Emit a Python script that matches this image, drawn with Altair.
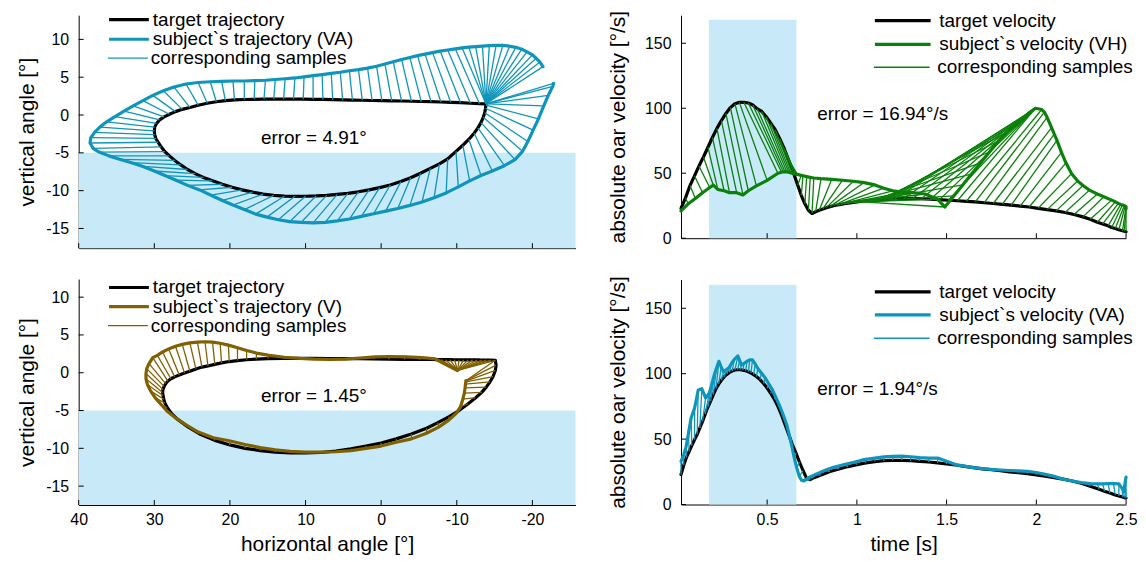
import altair as alt
import pandas as pd

FONT = "Liberation Sans"
BLACK = "#000000"
TEAL = "#0f95bb"
GREEN = "#0b800b"
OLIVE = "#806000"
BAND = "#c7e9f8"

# ---------------- top-left: target vs subject trajectory (VA) ----------------
TL_LABELS = ["target trajectory", "subject`s trajectory (VA)", "corresponding samples"]
TL_TX = [-13.85, -13.85, -13.85, -13.85, -13.85, -13.85, -13.85, -13.85, -13.85, -13.85,
         -13.85, -13.85, -13.85, -13.85, -13.85,
         -13.0, -11.8, -10.5, -9.2, -7.9, -6.6, -5.3, -4.0, -2.7, -1.4,
         -0.1, 1.2, 2.5, 3.8, 5.1, 6.4, 7.7, 9.0, 10.3, 11.6,
         12.9, 14.2, 15.5, 16.8, 18.1, 19.4, 20.6, 21.8, 23.0, 24.2,
         25.3, 26.3, 27.2, 28.0, 28.7, 29.3, 29.7, 29.95, 30.0, 29.95,
         29.8, 29.5, 29.1, 28.6, 28.0,
         27.3, 26.5, 25.6, 24.6, 23.5, 22.3, 21.0, 19.7, 18.4, 17.0,
         15.6, 14.2, 12.8, 11.4, 10.0, 8.6, 7.2, 5.8, 4.4, 3.0,
         1.6, 0.2, -1.2, -2.6, -3.9, -5.2, -6.5, -7.7, -8.8, -9.9,
         -10.8, -11.6, -12.3,
         -12.8, -13.2, -13.5, -13.7, -13.8, -13.85, -13.85, -13.85, -13.85, -13.85]
TL_TY = [1.48, 1.48, 1.48, 1.48, 1.48, 1.48, 1.48, 1.48, 1.48, 1.48,
         1.48, 1.48, 1.48, 1.48, 1.48,
         1.50, 1.56, 1.63, 1.68, 1.72, 1.76, 1.79, 1.82, 1.85, 1.87,
         1.9, 1.92, 1.95, 1.97, 2.0, 2.03, 2.06, 2.08, 2.1, 2.1,
         2.1, 2.1, 2.1, 2.08, 2.05, 2.0, 1.9, 1.75, 1.55, 1.3,
         1.0, 0.75, 0.45, 0.1, -0.25, -0.65, -1.1, -1.6, -2.1, -2.6,
         -3.1, -3.6, -4.2, -4.85, -5.4,
         -6.0, -6.6, -7.2, -7.75, -8.25, -8.7, -9.15, -9.55, -9.9, -10.2,
         -10.45, -10.62, -10.73, -10.75, -10.74, -10.7, -10.62, -10.5, -10.35, -10.15,
         -9.9, -9.6, -9.25, -8.8, -8.3, -7.7, -7.05, -6.45, -5.8, -4.8,
         -4.0, -3.2, -2.4,
         -1.7, -1.0, -0.3, 0.3, 0.9, 1.3, 1.48, 1.48, 1.48, 1.48]
TL_SX = [-21.4, -21.0, -20.5, -20.0, -19.3, -18.6, -17.8, -17.0, -16.1, -15.2,
         -14.3, -13.4, -12.5, -11.6, -10.7,
         -9.8, -8.8, -7.8, -6.8, -5.8, -4.8, -3.8, -2.7, -1.6, -0.5,
         0.6, 1.8, 3.0, 4.2, 5.4, 6.6, 7.8, 9.0, 10.2, 11.4,
         12.7, 14.0, 15.3, 16.7, 18.1, 19.6, 21.1, 22.6, 24.2, 25.8,
         27.4, 28.8, 30.2, 31.5, 32.8, 34.0, 35.2, 36.3, 37.2, 37.9,
         38.4, 38.5, 38.1, 37.3, 36.0,
         34.6, 33.0, 31.5, 30.0, 28.6, 27.2, 25.6, 24.0, 22.5, 21.0,
         19.6, 18.1, 16.6, 15.1, 13.6, 12.1, 10.6, 9.0, 7.4, 5.8,
         4.2, 2.6, 1.0, -0.6, -2.2, -3.8, -5.4, -7.0, -8.6, -10.2,
         -11.7, -13.2, -14.7,
         -16.3, -17.7, -18.7, -19.4, -20.1, -20.8, -21.5, -22.1, -22.7, -22.8]
TL_SY = [6.4, 7.0, 7.5, 7.95, 8.35, 8.7, 8.95, 9.1, 9.2, 9.2,
         9.18, 9.12, 9.05, 8.97, 8.88,
         8.75, 8.6, 8.45, 8.25, 8.05, 7.85, 7.6, 7.35, 7.05, 6.75,
         6.45, 6.2, 6.0, 5.85, 5.65, 5.5, 5.35, 5.2, 5.05, 4.9,
         4.8, 4.7, 4.6, 4.55, 4.5, 4.5, 4.45, 4.4, 4.3, 4.1,
         3.7, 3.2, 2.6, 1.9, 1.2, 0.5, -0.2, -0.9, -1.6, -2.3,
         -3.0, -3.7, -4.4, -4.9, -5.4,
         -5.85, -6.3, -6.8, -7.4, -8.0, -8.6, -9.3, -9.9, -10.6, -11.3,
         -11.9, -12.5, -13.1, -13.5, -13.85, -14.1, -14.2, -14.25, -14.2, -14.0,
         -13.75, -13.4, -13.05, -12.7, -12.35, -11.95, -11.5, -10.95, -10.3, -9.5,
         -8.7, -8.0, -7.4,
         -6.7, -5.9, -4.8, -3.5, -2.0, -0.5, 1.2, 2.6, 3.8, 4.2]

# ---------------- bottom-left: target vs subject trajectory (V) ----------------
BL_LABELS = ["target trajectory", "subject`s trajectory (V)", "corresponding samples"]
BL_TX = [-15.1, -14.5, -13.9, -13.3, -12.7, -12.1, -11.5, -10.9, -10.3, -9.7,
         -9.1, -8.5, -7.9, -7.3,
         -6.7, -5.0, -3.0, -1.0, 1.0, 3.0, 5.0, 7.0, 9.0, 11.0, 13.0, 15.0,
         16.5, 17.8, 19.0, 20.1, 21.1, 22.0, 22.9, 23.7, 24.5, 25.3,
         26.0, 26.7, 27.3, 27.8, 28.2, 28.5, 28.7, 28.85, 28.9, 28.85,
         28.75, 28.6, 28.3, 27.8,
         27.0, 25.5, 24.0, 22.0, 20.0, 18.0, 16.0, 14.0, 12.0, 10.0,
         8.0, 6.0, 4.0, 2.0, 0.0, -2.0, -4.0, -6.0, -7.5, -9.0,
         -10.3, -11.5, -12.5, -13.3, -13.9, -14.4, -14.8, -15.1, -15.2, -15.1]
BL_TY = [1.65, 1.66, 1.67, 1.68, 1.69, 1.7, 1.7, 1.71, 1.72, 1.72,
         1.73, 1.73, 1.74, 1.74,
         1.75, 1.75, 1.78, 1.8, 1.82, 1.85, 1.87, 1.88, 1.9, 1.9, 1.88, 1.87,
         1.8, 1.72, 1.6, 1.48, 1.3, 1.1, 0.9, 0.75, 0.5, 0.2,
         -0.05, -0.3, -0.55, -0.8, -1.1, -1.45, -1.8, -2.2, -2.6, -3.0,
         -3.5, -4.0, -4.6, -5.3,
         -6.1, -7.2, -8.1, -8.95, -9.55, -10.0, -10.3, -10.5, -10.62, -10.62,
         -10.55, -10.35, -10.05, -9.7, -9.3, -8.75, -8.1, -7.35, -6.6, -5.8,
         -5.0, -4.1, -3.3, -2.6, -1.9, -1.2, -0.5, 0.3, 1.0, 1.65]
BL_SX = [-10.1, -10.1, -10.1, -10.1, -10.1, -10.1, -10.1, -10.1, -10.1, -10.1,
         -10.1, -10.1, -10.1, -10.1,
         -7.1, -5.4, -3.3, -1.2, 0.8, 2.8, 4.8, 6.8, 8.8, 10.8, 12.8, 14.8,
         16.5, 17.8, 19.0, 20.2, 21.3, 22.3, 23.3, 24.3, 25.3, 26.3,
         27.2, 28.1, 28.9, 29.6, 30.2, 30.7, 31.0, 31.1, 31.1, 30.9,
         30.5, 29.9, 29.1, 28.3,
         27.3, 25.8, 24.2, 22.2, 20.1, 18.0, 16.0, 14.0, 12.0, 10.0,
         8.0, 6.0, 4.0, 2.0, 0.0, -2.0, -4.0, -6.0, -7.6, -8.9,
         -9.9, -10.5, -10.8, -11.0, -11.1, -11.15, -11.2, -11.2, -11.2, -11.2]
BL_SY = [0.3, 0.3, 0.3, 0.3, 0.3, 0.3, 0.3, 0.3, 0.3, 0.3,
         0.3, 0.3, 0.3, 0.3,
         1.85, 2.0, 2.1, 2.15, 2.1, 1.95, 1.8, 1.75, 1.8, 1.9, 2.05, 2.3,
         2.6, 2.95, 3.3, 3.65, 3.9, 4.05, 4.1, 4.05, 3.95, 3.75,
         3.5, 3.15, 2.75, 2.3, 2.0, 1.2, 0.55, -0.1, -0.8, -1.6,
         -2.4, -3.3, -4.2, -5.1,
         -5.9, -6.9, -7.85, -8.6, -9.0, -9.5, -9.9, -10.2, -10.4, -10.5,
         -10.5, -10.45, -10.3, -10.0, -9.7, -9.2, -8.75, -8.0, -7.2, -6.3,
         -5.4, -4.5, -3.5, -2.7, -2.0, -1.5, -1.2, -1.1, -1.05, -1.05]

# ---------------- top-right: target vs subject velocity (VH) ----------------
TR_LABELS = ["target velocity", "subject`s velocity (VH)", "corresponding samples"]
TR_TT = [0.02, 0.045, 0.07, 0.095, 0.12, 0.145, 0.17, 0.195, 0.22, 0.245,
         0.27, 0.295, 0.32, 0.345, 0.37,
         0.395, 0.42, 0.445, 0.47, 0.495, 0.52, 0.545, 0.57, 0.595, 0.62,
         0.645, 0.67, 0.69, 0.71, 0.73, 0.75,
         0.77, 0.79, 0.81, 0.83, 0.85, 0.87, 0.89, 0.91, 0.93, 0.95, 0.97, 0.99,
         1.01, 1.03, 1.05, 1.07, 1.09, 1.11, 1.13, 1.15, 1.17, 1.19,
         1.21, 1.26, 1.31, 1.36, 1.41, 1.46, 1.51, 1.56,
         1.61, 1.66, 1.71, 1.76, 1.81, 1.86, 1.91, 1.96, 2.01, 2.06,
         2.11, 2.16, 2.21, 2.26, 2.3,
         2.34, 2.37, 2.4, 2.42, 2.44, 2.46, 2.48, 2.49, 2.5]
TR_TV = [23, 31, 40.5, 48, 55.5, 62.5, 70, 77.5, 84.5, 90.5,
         96, 100.5, 103.5, 104.5, 104.6,
         104, 102.5, 99.5, 97.5, 93.5, 88.5, 83.5, 76.5, 69, 60,
         51, 41, 33, 26.5, 21.5, 19,
         20.3, 21.5, 22.5, 23.5, 24.3, 25, 25.5, 26, 26.5, 27, 27.4, 27.8,
         28.1, 28.4, 28.6, 28.8, 29.0, 29.2, 29.4, 29.6, 29.8, 30,
         30.2, 30.5, 30.6, 30.5, 30.1, 29.7, 29.2, 28.8,
         28.4, 28, 27.3, 26.7, 26, 25.4, 24.7, 24, 23, 22,
         21, 19.8, 18.2, 16.4, 14.5,
         12.3, 11, 9.5, 8.2, 7.4, 6.5, 5.7, 5.3, 5]
TR_ST = [0.02, 0.06, 0.1, 0.14, 0.18, 0.2, 0.225, 0.26, 0.29, 0.33,
         0.365, 0.395, 0.44, 0.5, 0.56,
         0.58, 0.59, 0.6, 0.61, 0.62, 0.63, 0.64, 0.65, 0.66, 0.67,
         0.68, 0.69, 0.7, 0.72, 0.74, 0.76,
         0.8, 0.86, 0.92, 0.98, 1.04, 1.1, 1.15, 1.2, 1.26, 1.32, 1.38, 1.45,
         1.49, 1.54, 1.59, 1.64, 1.69, 1.74, 1.79, 1.84, 1.9, 1.96,
         1.995, 1.995, 1.995, 1.995, 1.995, 1.995, 1.995, 1.995,
         2.03, 2.045, 2.06, 2.085, 2.1, 2.115, 2.14, 2.165, 2.196, 2.23,
         2.26, 2.296, 2.34, 2.376, 2.42,
         2.44, 2.457, 2.47, 2.48, 2.49, 2.495, 2.5, 2.5, 2.5]
TR_SV = [21, 26.5, 30.5, 35, 39, 40.8, 37.5, 36.5, 35, 35,
         33.3, 36.5, 40.3, 44.5, 50,
         50.8, 51, 51, 51, 50.7, 50.3, 50, 49.7, 49.3, 49,
         48.7, 48.3, 48, 47.4, 46.8, 46.3,
         45.8, 45.3, 44.6, 43.8, 42.8, 41, 38.5, 36.5, 35.3, 35, 34, 30,
         24, 32.5, 41, 49.5, 58, 66.5, 75, 82, 89, 96.5,
         100, 100, 100, 100, 100, 100, 100, 100,
         99, 97, 93, 85, 80, 75.3, 66, 58, 49.7, 44,
         40.5, 37, 34, 31.9, 29.3,
         28, 26.8, 26, 25.5, 25, 24.6, 24.2, 23.5, 22.5]

# ---------------- bottom-right: target vs subject velocity (VA) ----------------
BR_LABELS = ["target velocity", "subject`s velocity (VA)", "corresponding samples"]
BR_TT = [0.02, 0.035, 0.05, 0.065, 0.08, 0.095, 0.11, 0.125, 0.14, 0.155,
         0.17, 0.185, 0.2, 0.215, 0.23, 0.245, 0.26, 0.275, 0.29, 0.305,
         0.32, 0.335, 0.35, 0.365, 0.38, 0.395, 0.41, 0.425, 0.44, 0.46,
         0.48, 0.5, 0.52, 0.54, 0.56, 0.58, 0.6, 0.62, 0.64, 0.66,
         0.68, 0.7, 0.72, 0.74, 0.76, 0.8, 0.85, 0.9, 0.95, 1.0,
         1.05, 1.1, 1.15, 1.2, 1.25, 1.3, 1.35, 1.4, 1.45, 1.5,
         1.55, 1.6, 1.65, 1.7, 1.75, 1.8, 1.85, 1.9, 1.95, 2.0,
         2.05, 2.1, 2.15, 2.2, 2.25, 2.3, 2.35, 2.38, 2.41, 2.44,
         2.46, 2.48, 2.49, 2.5, 2.5]
BR_TV = [22.9, 30, 36, 40.5, 45, 49.5, 53.5, 58.5, 63.5, 69,
         74.5, 79, 84, 88.5, 92, 95, 97.5, 99.5, 101, 102,
         102.8, 103, 103, 102.7, 102.2, 101.5, 100.5, 99.3, 97.8, 95.5,
         92.5, 89, 85, 80.5, 75, 68.5, 61, 53.5, 46, 39.5,
         32.5, 26, 20, 19, 20.5, 22.5, 25.3, 27.2, 29, 30.5,
         31.8, 32.8, 33.5, 33.8, 33.8, 33.5, 33, 32.5, 31.8, 31,
         30.2, 29.2, 28.2, 27.3, 26.6, 25.8, 25, 24.3, 23.6, 22.7,
         21.7, 20.6, 19.4, 18, 16.2, 14, 11.7, 10.2, 8.8, 7.3,
         6.5, 5.7, 5.3, 5, 5]
BR_ST = [0.02, 0.035, 0.048, 0.062, 0.076, 0.096, 0.116, 0.136, 0.157, 0.177,
         0.19, 0.203, 0.217, 0.231, 0.244, 0.257, 0.272, 0.287, 0.302, 0.317,
         0.337, 0.347, 0.357, 0.372, 0.388, 0.403, 0.418, 0.433, 0.448, 0.468,
         0.488, 0.508, 0.528, 0.548, 0.568, 0.588, 0.609, 0.625, 0.64, 0.652,
         0.665, 0.679, 0.692, 0.705, 0.73, 0.77, 0.82, 0.87, 0.93, 0.99,
         1.04, 1.1, 1.15, 1.2, 1.25, 1.3, 1.35, 1.4, 1.45, 1.5,
         1.55, 1.6, 1.65, 1.7, 1.75, 1.8, 1.85, 1.9, 1.95, 2.0,
         2.05, 2.1, 2.15, 2.2, 2.25, 2.3, 2.34, 2.37, 2.4, 2.43,
         2.46, 2.48, 2.487, 2.495, 2.5]
BR_SV = [33, 38, 44, 55, 66, 74, 87.5, 88.5, 81.5, 85,
         91, 98, 104, 109.5, 105, 101.5, 103, 104.5, 108, 111,
         113.5, 110, 106.5, 108, 109.5, 110.5, 110.5, 107.5, 104, 100.5,
         97, 92.5, 88, 82, 76, 69, 61, 52, 43, 35,
         28, 21.5, 18.5, 18, 20.5, 23, 26, 28.5, 30.5, 32.5,
         34.3, 35.5, 36.4, 36.8, 37, 36.5, 35.8, 35.5, 35.5, 33,
         30.5, 29.3, 28.2, 27.5, 26.8, 26.4, 26, 25.7, 25.4, 24.5,
         23, 21.5, 19.3, 18, 16.7, 16, 15.8, 15.8, 15.9, 15.9,
         15.8, 12, 9.5, 17, 21]

# axis ticks, ranges, bands, annotations
ANGLE_TICKS = [40, 30, 20, 10, 0, -10, -20]
VERT_TICKS = [-15, -10, -5, 0, 5, 10]
TIME_TICKS = [0.5, 1, 1.5, 2, 2.5]
VEL_TICKS = [0, 50, 100, 150]
ANGLE_DOMAIN = [-25.7, 40]
TL_YDOMAIN = [-17.6, 13.2]
BL_YDOMAIN = [-17.5, 12.4]
TIME_DOMAIN = [0.02, 2.5]
TR_YDOMAIN = [0, 171.6]
BR_YDOMAIN = [0, 172]
TL_BAND = [-25.7, 40, -17.6, -5]
BL_BAND = [-25.7, 40, -17.5, -5]
VEL_BAND = [0.176, 0.663, 0, 168]
TL_ERR = [15.9, -3.1, "error = 4.91°"]
BL_ERR = [15.9, -3.1, "error = 1.45°"]
TR_ERR = [0.779, 95.7, "error = 16.94°/s"]
BR_ERR = [0.779, 88.6, "error = 1.94°/s"]


def make_df(tx, ty, sx, sy, labels):
    assert len(tx) == len(ty) == len(sx) == len(sy), (len(tx), len(ty), len(sx), len(sy))
    rows = []
    for i, (a, b) in enumerate(zip(tx, ty)):
        rows.append({"s": labels[0], "k": "t", "g": "t", "o": i, "x": a, "y": b})
    for i, (a, b) in enumerate(zip(sx, sy)):
        rows.append({"s": labels[1], "k": "s", "g": "s", "o": i, "x": a, "y": b})
    for i in range(len(tx)):
        rows.append({"s": labels[2], "k": "p", "g": "p%d" % i, "o": 0, "x": tx[i], "y": ty[i]})
        rows.append({"s": labels[2], "k": "p", "g": "p%d" % i, "o": 1, "x": sx[i], "y": sy[i]})
    return pd.DataFrame(rows)


def panel(tx, ty, sx, sy, labels, color, xdom, xrev, ydom, w, h, xticks, yticks,
          xlabels, xtitle, ytitle, band, err, legx, legys, sym_path, lab_off, ytitle_pad):
    xs = alt.Scale(domain=xdom, reverse=xrev, nice=False, zero=False)
    ys = alt.Scale(domain=ydom, nice=False, zero=False)
    common = dict(grid=False, ticks=False, domainColor="black", domainWidth=1,
                  labelFont=FONT, labelFontSize=16, labelColor="black",
                  labelExpr="datum.value + ''", labelFlush=False, labelOverlap=False,
                  titleFont=FONT, titleFontSize=21, titleFontWeight="normal", titleColor="black")
    if xlabels:
        xaxis = alt.Axis(values=xticks, labels=True, labelPadding=7, title=xtitle, titlePadding=6, **common)
    else:
        xaxis = alt.Axis(values=xticks, labels=False, title=None, **common)
    yaxis = alt.Axis(values=yticks, labelPadding=10, title=ytitle, titlePadding=ytitle_pad, **common)
    X = lambda f: alt.X(f, scale=xs, axis=xaxis)
    Y = lambda f: alt.Y(f, scale=ys, axis=yaxis)

    band_df = pd.DataFrame({"x": [band[0]], "x2": [band[1]], "y": [band[2]], "y2": [band[3]]})
    band_layer = alt.Chart(band_df).mark_rect(color=BAND).encode(
        x=X("x:Q"), x2="x2:Q", y=Y("y:Q"), y2="y2:Q")

    df = make_df(tx, ty, sx, sy, labels)
    leg_common = dict(orient="none", legendX=legx, title=None, symbolType=sym_path, symbolSize=400,
                      labelOffset=lab_off, labelFont=FONT, labelFontSize=19,
                      labelColor="black", labelLimit=400, padding=0, symbolFillColor="transparent")
    leg_t = alt.Legend(legendY=legys[0], symbolStrokeWidth=3.2, **leg_common)
    leg_s = alt.Legend(legendY=legys[1], symbolStrokeWidth=3.2, **leg_common)
    leg_p = alt.Legend(legendY=legys[2], symbolStrokeWidth=1.3, symbolStrokeColor=color, **leg_common)
    ch_t = alt.Color("s:N", scale=alt.Scale(domain=labels[0:1], range=[BLACK]), legend=leg_t)
    ch_s = alt.Stroke("s:N", scale=alt.Scale(domain=labels[1:2], range=[color]), legend=leg_s)
    ch_p = alt.Opacity("s:N", scale=alt.Scale(domain=labels[2:3], range=[1]), legend=leg_p)

    base = alt.Chart(df)
    target = base.transform_filter(alt.datum.k == "t").mark_line(
        strokeWidth=3.2, strokeJoin="round", strokeCap="round").encode(
        x=X("x:Q"), y=Y("y:Q"), color=ch_t, detail="g:N", order="o:Q")
    subject = base.transform_filter(alt.datum.k == "s").mark_line(
        strokeWidth=3.2, strokeJoin="round", strokeCap="round").encode(
        x=X("x:Q"), y=Y("y:Q"), stroke=ch_s, detail="g:N", order="o:Q")
    pairs = base.transform_filter(alt.datum.k == "p").mark_line(color=color, strokeWidth=1.3).encode(
        x=X("x:Q"), y=Y("y:Q"), opacity=ch_p, detail="g:N", order="o:Q")

    xt = alt.Chart(pd.DataFrame({"x": xticks})).mark_rule(color="black", strokeWidth=1).encode(
        x=X("x:Q"), y=alt.value(h), y2=alt.value(h - 5))
    yt = alt.Chart(pd.DataFrame({"y": yticks})).mark_rule(color="black", strokeWidth=1).encode(
        y=Y("y:Q"), x=alt.value(0), x2=alt.value(5))

    txt = alt.Chart(pd.DataFrame({"x": [err[0]], "y": [err[1]], "t": [err[2]]})).mark_text(
        align="left", baseline="middle", font=FONT, fontSize=19, color="black").encode(
        x=X("x:Q"), y=Y("y:Q"), text="t:N")

    return alt.layer(band_layer, target, subject, pairs, xt, yt, txt).properties(width=w, height=h)


LEFT_PATH = "M-1,0H3"
RIGHT_PATH = "M-1,0H4.6"

tl = panel(TL_TX, TL_TY, TL_SX, TL_SY, TL_LABELS, TEAL, ANGLE_DOMAIN, True, TL_YDOMAIN, 499, 234,
           ANGLE_TICKS, VERT_TICKS, False, None, "vertical angle [°]", TL_BAND, TL_ERR,
           28.5, [-7.5, 12.2, 32.2], LEFT_PATH, 22, 8)
bl = panel(BL_TX, BL_TY, BL_SX, BL_SY, BL_LABELS, OLIVE, ANGLE_DOMAIN, True, BL_YDOMAIN, 499, 227,
           ANGLE_TICKS, VERT_TICKS, True, "horizontal angle [°]", "vertical angle [°]", BL_BAND, BL_ERR,
           28.5, [-3.5, 15.8, 35.8], LEFT_PATH, 22, 8)
tr = panel(TR_TT, TR_TV, TR_ST, TR_SV, TR_LABELS, GREEN, TIME_DOMAIN, False, TR_YDOMAIN, 447, 224,
           TIME_TICKS, VEL_TICKS, False, None, "absolute oar velocity [°/s]", VEL_BAND, TR_ERR,
           192.7, [-6.5, 17.3, 41.3], RIGHT_PATH, 42.6, 16)
br = panel(BR_TT, BR_TV, BR_ST, BR_SV, BR_LABELS, TEAL, TIME_DOMAIN, False, BR_YDOMAIN, 447, 226,
           TIME_TICKS, VEL_TICKS, True, "time [s]", "absolute oar velocity [°/s]", VEL_BAND, BR_ERR,
           192.7, [0.5, 23.5, 48], RIGHT_PATH, 42.6, 16)

ind = dict(color="independent", stroke="independent", opacity="independent")
left = alt.vconcat(tl, bl, spacing=26).resolve_scale(**ind).resolve_legend(**ind)
right = alt.vconcat(tr, br, spacing=29.5).resolve_scale(**ind).resolve_legend(**ind)
chart = (alt.hconcat(left, right, spacing=32)
         .resolve_scale(**ind).resolve_legend(**ind)
         .properties(padding={"left": 8, "top": -2, "right": 0, "bottom": 0})
         .configure_view(stroke=None))

chart.save("out.html", embed_options={"renderer": "svg", "actions": False})
